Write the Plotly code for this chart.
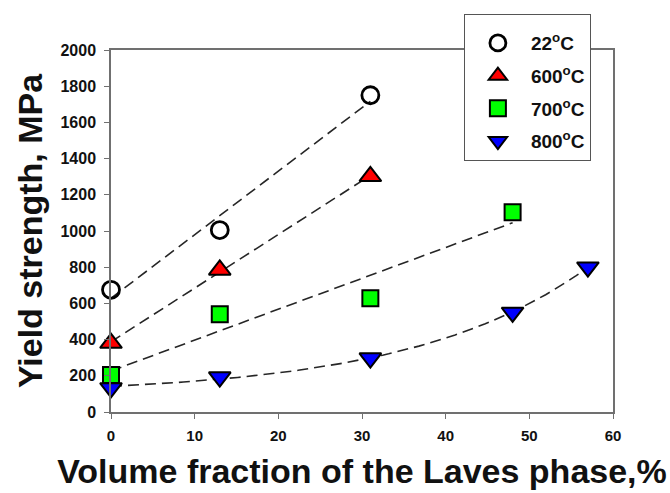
import numpy as np
import plotly.graph_objects as go

# Data
x_22 = [0, 13, 31]
y_22 = [675, 1005, 1750]
x_600 = [0, 13, 31]
y_600 = [381, 785, 1302]
x_700 = [0, 13, 31, 48]
y_700 = [205, 540, 628, 1103]
x_800 = [0, 13, 31, 48, 57]
y_800 = [133, 193, 298, 550, 800]

names = ["22<sup>o</sup>C", "600<sup>o</sup>C", "700<sup>o</sup>C", "800<sup>o</sup>C"]
x_ticks = [0, 10, 20, 30, 40, 50, 60]
y_ticks = [0, 200, 400, 600, 800, 1000, 1200, 1400, 1600, 1800, 2000]

series = [
    (x_22, y_22, "lin", "circle-open", "black", 17),
    (x_600, y_600, "lin", "triangle-up", "#ff0000", 19),
    (x_700, y_700, "lin", "square", "#00ff00", 16),
    (x_800, y_800, "exp", "triangle-down", "#0000ff", 19),
]


def fit_curve(xs, ys, kind, xf):
    xs = np.asarray(xs, float)
    ys = np.asarray(ys, float)
    if kind == "lin":
        return np.polyval(np.polyfit(xs, ys, 1), xf)
    # 3-parameter exponential growth: y = y0 + a*exp(b*x), least squares
    best = None
    for b in np.linspace(0.005, 0.2, 400):
        A = np.column_stack([np.ones_like(xs), np.exp(b * xs)])
        c, *_ = np.linalg.lstsq(A, ys, rcond=None)
        err = np.sum((A @ c - ys) ** 2)
        if best is None or err < best[0]:
            best = (err, b, c)
    _, b, c = best
    return c[0] + c[1] * np.exp(b * xf)


fig = go.Figure()

# dashed regression lines
for xs, ys, kind, *_ in series:
    xf = np.linspace(min(xs), max(xs), 80)
    fig.add_trace(go.Scatter(
        x=xf, y=fit_curve(xs, ys, kind, xf), mode="lines",
        line=dict(color="#262626", width=1.6, dash="11px,6px"),
        showlegend=False, hoverinfo="skip"))

for i, ((xs, ys, kind, sym, col, sz), nm) in enumerate(zip(series, names)):
    if sym == "circle-open":
        marker = dict(symbol=sym, size=sz, color="black", line=dict(width=2.8, color="black"))
    else:
        marker = dict(symbol=sym, size=sz, color=col, line=dict(width=2, color="black"))
    fig.add_trace(go.Scatter(
        x=xs, y=ys, mode="markers", name=nm, marker=marker,
        legendgroup=f"g{i}", cliponaxis=False))

fig.update_layout(
    width=670, height=493,
    margin=dict(l=111, r=57, t=50, b=81),
    paper_bgcolor="white", plot_bgcolor="white",
    font=dict(family="Liberation Sans, Arial, sans-serif", color="black"),
    showlegend=True,
    legend=dict(
        x=0.703, y=1.0995, xanchor="left", yanchor="top",
        bgcolor="white", bordercolor="#555555", borderwidth=1,
        font=dict(size=19, family="Liberation Sans, Arial, sans-serif", color="#111111", weight="bold"),
        traceorder="grouped", tracegroupgap=5,
        itemwidth=56,
        title=dict(text=" ", font=dict(size=7)),
    ),
    xaxis=dict(
        range=[0, 60], tickvals=x_ticks, ticktext=[str(v) for v in x_ticks],
        showline=True, linecolor="#707070", linewidth=1.5, mirror=True,
        ticks="outside", ticklen=5, tickcolor="#707070", tickwidth=1.2,
        showgrid=False, zeroline=False, ticklabelstandoff=4,
        automargin=False,
        tickfont=dict(size=15, color="#111111", weight="bold"),
        title=dict(text="Volume fraction of the Laves phase,%", standoff=16,
                   font=dict(size=34, weight="bold", color="#111111")),
    ),
    yaxis=dict(
        range=[0, 2000], tickvals=y_ticks, ticktext=[str(v) for v in y_ticks],
        showline=True, linecolor="#707070", linewidth=1.5, mirror=True,
        ticks="outside", ticklen=5, tickcolor="#707070", tickwidth=1.2,
        showgrid=False, zeroline=False, ticklabelstandoff=5,
        automargin=False,
        tickfont=dict(size=16, color="#111111", weight="bold"),
        title=dict(text="Yield strength, MPa", standoff=8,
                   font=dict(size=34, weight="bold", color="#111111")),
    ),
)

fig.write_html("out.html")
